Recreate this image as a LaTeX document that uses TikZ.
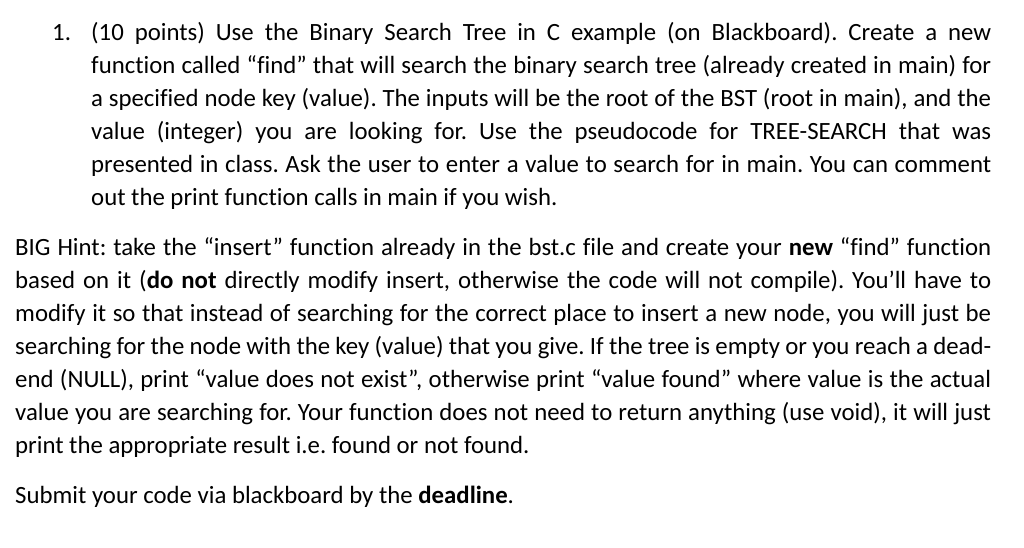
\documentclass[tikz,border=0pt]{standalone}
\usepackage{fontspec}
\setmainfont[Ligatures={NoCommon}]{Carlito}
\frenchspacing
\begin{document}
\begin{tikzpicture}[x=1pt,y=1pt,
  ln/.style={anchor=base west,inner sep=0pt,font=\fontsize{24.8}{28}\selectfont\frenchspacing}]
\useasboundingbox[fill=white] (0,0) rectangle (1024,-548);
\newcommand{\jA}[1]{\makebox[900pt][s]{#1}}
\newcommand{\jB}[1]{\makebox[976pt][s]{#1}}
\node[ln] (n1) at (52,-41) {1.};
\node[ln] (a1) at (91,-41) {\jA{(10 points) Use the Binary Search Tree in C example (on Blackboard). Create a new}};
\node[ln] (a2) at (91,-74) {\jA{function called “find” that will search the binary search tree (already created in main) for}};
\node[ln] (a3) at (91,-107) {\jA{a specified node key (value). The inputs will be the root of the BST (root in main), and the}};
\node[ln] (a4) at (91,-140) {\jA{value (integer) you are looking for. Use the pseudocode for TREE-SEARCH that was}};
\node[ln] (a5) at (91,-172) {\jA{presented in class. Ask the user to enter a value to search for in main. You can comment}};
\node[ln] (a6) at (91,-205) {out the print function calls in main if you wish.};
\node[ln] (b1) at (15,-255) {\jB{BIG Hint: take the “insert” function already in the bst.c file and create your \textbf{new} “find” function}};
\node[ln] (b2) at (15,-288) {\jB{based on it (\textbf{do not} directly modify insert, otherwise the code will not compile). You’ll have to}};
\node[ln] (b3) at (15,-321) {\jB{modify it so that instead of searching for the correct place to insert a new node, you will just be}};
\node[ln] (b4) at (15,-354) {\jB{searching for the node with the key (value) that you give. If the tree is empty or you reach a dead-}};
\node[ln] (b5) at (15,-387) {\jB{end (NULL), print “value does not exist”, otherwise print “value found” where value is the actual}};
\node[ln] (b6) at (15,-420) {\jB{value you are searching for. Your function does not need to return anything (use void), it will just}};
\node[ln] (b7) at (15,-453) {print the appropriate result i.e. found or not found.};
\node[ln] (c1) at (15,-503) {Submit your code via blackboard by the \textbf{deadline}.};
\end{tikzpicture}
\end{document}
